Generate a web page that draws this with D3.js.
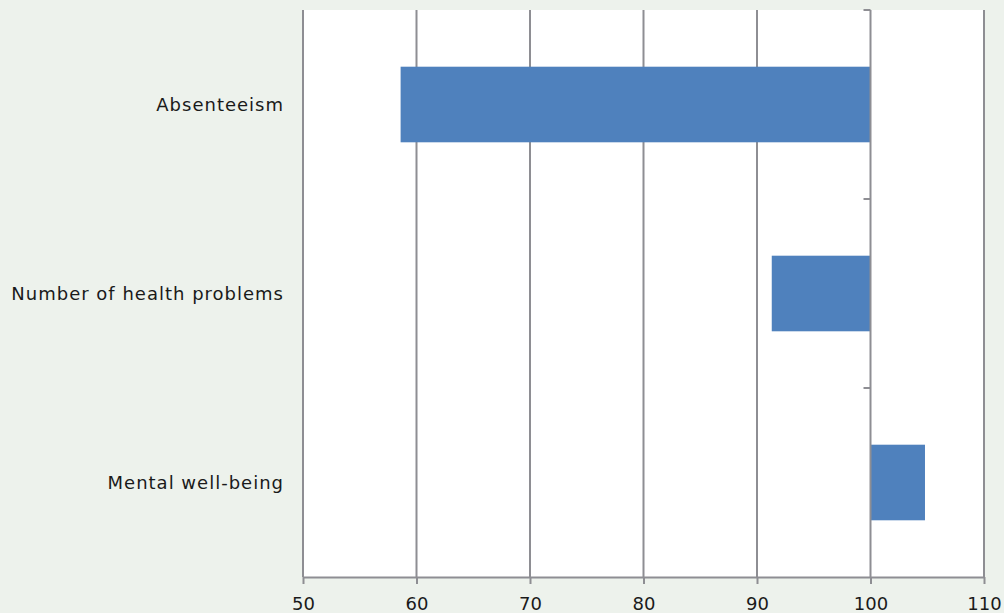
<!DOCTYPE html>
<html>
<head>
<meta charset="utf-8">
<script src="https://cdn.jsdelivr.net/npm/d3@7"></script>
<style>
  html, body { margin: 0; padding: 0; background: #edf2ec; }
  svg { display: block; }
  text { font-family: "DejaVu Sans", Verdana, sans-serif; fill: #1a1a1a; }
</style>
</head>
<body>
<svg id="chart" width="1004" height="613"></svg>
<script>
// Index values relative to a baseline of 100
const categories = ["Absenteeism", "Number of health problems", "Mental well-being"];
const values = [58.6, 91.3, 104.8];
const xTicks = [50, 60, 70, 80, 90, 100, 110];
const baseline = 100;

const W = 1004, H = 613;
const margin = { left: 303, right: 20, top: 10, bottom: 36 };
const svg = d3.select("#chart");

const x = d3.scaleLinear().domain([50, 110]).range([margin.left, W - margin.right]);
const y = d3.scaleBand().domain(categories)
  .range([margin.top, H - margin.bottom])
  .paddingInner(0.6).paddingOuter(0.3);

const gridColor = "#8e8e93";

// plot area
svg.append("rect")
  .attr("x", x(50)).attr("y", margin.top)
  .attr("width", x(110) - x(50) + 1).attr("height", H - margin.bottom - margin.top)
  .attr("fill", "#ffffff");

// vertical gridlines
svg.append("g").selectAll("line").data(xTicks.filter(d => d !== baseline)).join("line")
  .attr("x1", d => x(d)).attr("x2", d => x(d))
  .attr("y1", margin.top).attr("y2", H - margin.bottom)
  .attr("stroke", gridColor).attr("stroke-width", 2);

// bars from the baseline
svg.append("g").selectAll("rect").data(categories).join("rect")
  .attr("x", (d, i) => x(Math.min(values[i], baseline)))
  .attr("width", (d, i) => Math.abs(x(values[i]) - x(baseline)))
  .attr("y", d => y(d))
  .attr("height", y.bandwidth())
  .attr("fill", "#4f81bd");

// category axis drawn at the baseline
const catAxis = svg.append("g");
catAxis.append("line")
  .attr("x1", x(baseline)).attr("x2", x(baseline))
  .attr("y1", margin.top).attr("y2", H - margin.bottom)
  .attr("stroke", gridColor).attr("stroke-width", 2);
const step = y.step();
const bounds = [margin.top, ...categories.slice(1).map(c => y(c) - step * y.paddingInner() / 2)];
catAxis.selectAll("line.tick").data(bounds).join("line")
  .attr("class", "tick")
  .attr("x1", x(baseline) - 7).attr("x2", x(baseline))
  .attr("y1", d => d).attr("y2", d => d)
  .attr("stroke", gridColor).attr("stroke-width", 2);

// category labels
svg.append("g").selectAll("text").data(categories).join("text")
  .attr("x", 284)
  .attr("y", d => y(d) + y.bandwidth() / 2)
  .attr("dy", "0.35em")
  .attr("text-anchor", "end")
  .attr("font-size", 18)
  .attr("letter-spacing", 1)
  .text(d => d);

// value axis at the bottom
const xAxis = d3.axisBottom(x).tickValues(xTicks).tickSize(7).tickPadding(13).tickSizeOuter(0);
const gx = svg.append("g")
  .attr("transform", `translate(0,${H - margin.bottom})`)
  .call(xAxis);
gx.select(".domain").attr("stroke", gridColor).attr("stroke-width", 2);
gx.selectAll(".tick line").attr("stroke", gridColor).attr("stroke-width", 2);
gx.selectAll(".tick text")
  .attr("font-size", 18)
  .attr("font-family", "DejaVu Sans, Verdana, sans-serif")
  .attr("fill", "#1a1a1a");
</script>
</body>
</html>
